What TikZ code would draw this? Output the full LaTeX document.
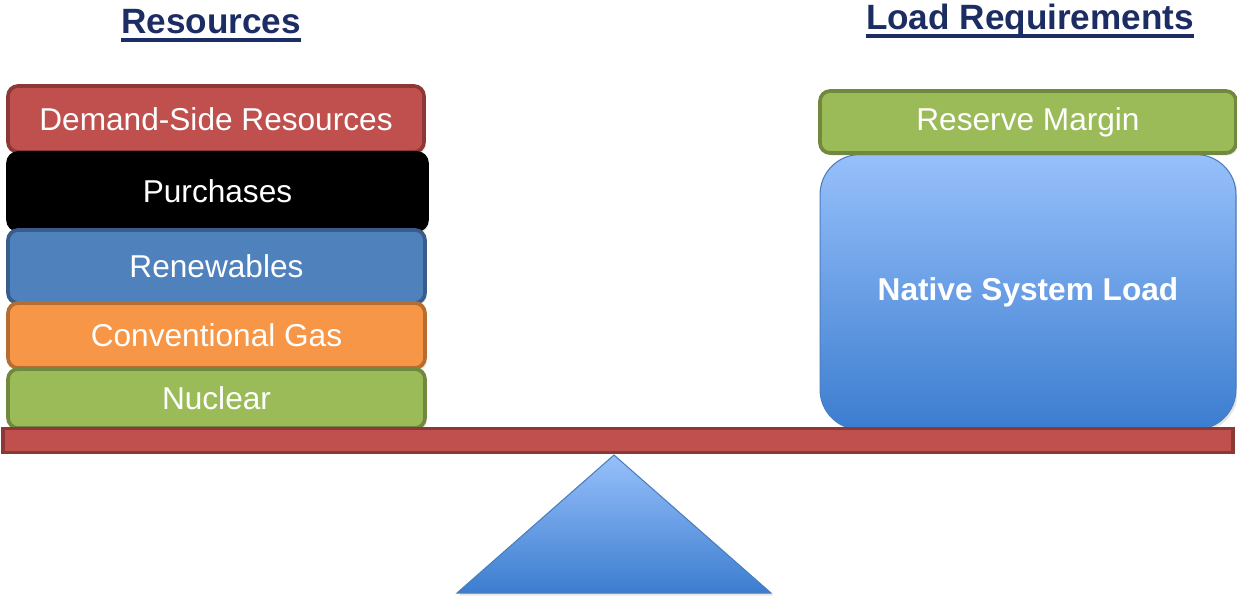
\documentclass[tikz,border=0pt]{standalone}
\usepackage{fontspec}
\setmainfont{Liberation Sans}
\usetikzlibrary{shadows}
\definecolor{titleblue}{RGB}{28,45,100}
\definecolor{redfill}{RGB}{192,80,77}
\definecolor{redline}{RGB}{140,56,54}
\definecolor{bluefill}{RGB}{79,129,189}
\definecolor{blueline}{RGB}{56,93,138}
\definecolor{orangefill}{RGB}{247,150,70}
\definecolor{orangeline}{RGB}{182,109,49}
\definecolor{greenfill}{RGB}{155,187,89}
\definecolor{greenline}{RGB}{113,137,63}
\definecolor{lighttop}{RGB}{151,192,250}
\definecolor{darkbottom}{RGB}{60,125,208}
\definecolor{gradline}{RGB}{74,126,187}
\tikzset{
  block/.style={rounded corners=0.2cm,line width=2.1pt,minimum width=8.32cm,
    text=white,font=\fontsize{18}{20}\selectfont,inner sep=0pt,
    drop shadow={opacity=0.2,shadow xshift=0.04cm,shadow yshift=-0.05cm}},
  heading/.style={text=titleblue,font=\fontsize{20}{22}\selectfont\bfseries,inner sep=0pt,anchor=base},
  grad/.style={top color=lighttop,bottom color=darkbottom,draw=gradline,line width=0.6pt}
}
\begin{document}
\begin{tikzpicture}[x=0.02cm,y=-0.02cm]
    \useasboundingbox (0,0) rectangle (1237,596);
    % headings
    \node[heading] (res) at (211,33) {Resources};
    \node[heading] (load) at (1030,29) {Load Requirements};
    \draw[titleblue,line width=1.8pt] ([yshift=-4pt]res.base west) -- ([yshift=-4pt]res.base east);
    \draw[titleblue,line width=1.8pt] ([yshift=-4pt]load.base west) -- ([yshift=-4pt]load.base east);
    % resource stack
    \node[block,fill=redfill,draw=redline,minimum height=1.32cm] (dsr) at (216,119) {Demand-Side Resources};
    \node[block,fill=black,draw=black,minimum width=8.38cm,minimum height=1.54cm] (pur) at (217.5,191.5) {Purchases};
    \node[block,fill=bluefill,draw=blueline,minimum width=8.34cm,minimum height=1.46cm] (ren) at (216.5,266.5) {Renewables};
    \node[block,fill=orangefill,draw=orangeline,minimum width=8.34cm,minimum height=1.3cm] (gas) at (216.5,335.5) {Conventional Gas};
    \node[block,fill=greenfill,draw=greenline,minimum width=8.34cm,minimum height=1.18cm] (nuc) at (216.5,398.5) {Nuclear};
    % load side
    \node[block,grad,rounded corners=0.8cm,minimum height=5.5cm,font=\fontsize{18}{20}\selectfont\bfseries] (nsl) at (1028,292) {Native System Load};
    \node[block,fill=greenfill,draw=greenline,minimum height=1.24cm] (rm) at (1028,122) {Reserve Margin};
    % beam and pivot
    \node[fill=redfill,draw=redline,line width=2.1pt,minimum width=24.6cm,minimum height=0.48cm,inner sep=0pt] (beam) at (618,440.5) {};
    \draw[grad,drop shadow={opacity=0.2,shadow xshift=0.04cm,shadow yshift=-0.05cm}] (614,455) -- (771,593) -- (457,593) -- cycle;
\end{tikzpicture}
\end{document}
